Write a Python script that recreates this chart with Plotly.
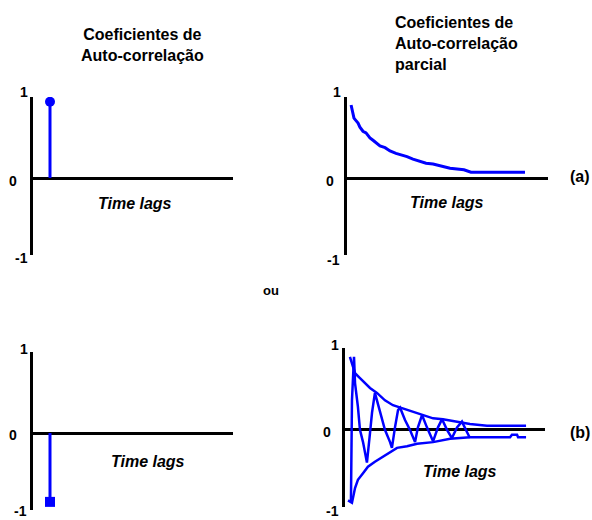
import plotly.graph_objects as go

W, H = 592, 520

# ---------------- data ----------------
# (a) autocorrelation: single spike at lag 1
ACF_A_LAG = [1]
ACF_A_VAL = [0.93]
# (a) partial autocorrelation: decaying curve
PACF_A_LAG = [0.24, 0.35, 0.41, 0.53, 0.65, 0.76, 0.94, 1.12, 1.24, 1.35, 1.53, 1.71,
              1.94, 2.24, 2.53, 2.88, 3.24, 3.53, 3.88, 4.24, 4.65, 5.06, 5.47, 6.06,
              6.88, 7.29, 10.47]
PACF_A_VAL = [0.89, 0.79, 0.73, 0.70, 0.67, 0.62, 0.57, 0.55, 0.51, 0.49, 0.46, 0.43,
              0.39, 0.37, 0.33, 0.30, 0.28, 0.26, 0.23, 0.21, 0.18, 0.17, 0.15, 0.12,
              0.10, 0.07, 0.07]
# (b) autocorrelation: single negative spike at lag 1
ACF_B_LAG = [1]
ACF_B_VAL = [-0.84]
# (b) partial autocorrelation: upper envelope, lower envelope, damped oscillation
UPPER_LAG = [0.29, 0.59, 0.88, 1.18, 1.47, 1.88, 2.35, 2.82, 3.24, 3.82, 4.59, 5.18,
             5.76, 6.59, 7.35, 8.35, 10.65]
UPPER_VAL = [0.88, 0.68, 0.62, 0.56, 0.50, 0.44, 0.35, 0.29, 0.26, 0.22, 0.17, 0.13,
             0.12, 0.09, 0.06, 0.04, 0.04]
LOWER_LAG = [0.18, 0.41, 0.59, 0.76, 1.06, 1.35, 1.76, 2.24, 2.65, 3.06, 3.65, 4.24,
             5.18, 6.18, 7.35, 9.71, 9.82, 10.12, 10.18, 10.65]
LOWER_VAL = [-0.87, -0.90, -0.72, -0.62, -0.54, -0.46, -0.40, -0.34, -0.28, -0.23, -0.21,
             -0.18, -0.16, -0.12, -0.10, -0.10, -0.07, -0.07, -0.10, -0.10]
OSC_LAG = [0.35, 0.41, 0.53, 0.59, 0.76, 0.88, 1.06, 1.18, 1.29, 1.47, 1.59, 1.76,
           2.06, 2.35, 2.65, 2.76, 2.94, 3.12, 3.24, 3.53, 3.82, 4.12, 4.29, 4.53,
           4.82, 5.18, 5.47, 5.71, 6.00, 6.29, 6.59, 6.88, 7.18, 7.35]
OSC_VAL = [-0.89, 0.35, 0.88, 0.56, 0.27, -0.01, -0.16, -0.29, -0.41, -0.05, 0.20, 0.44,
           0.20, -0.01, -0.16, -0.23, 0.02, 0.23, 0.26, 0.11, -0.01, -0.16, 0.02, 0.17,
           0.02, -0.15, 0.02, 0.12, -0.01, -0.11, 0.02, 0.09, -0.04, -0.11]

TICK_VALUES = [1, 0, -1]
TICK_LABELS = ["1", "0", "-1"]
TITLE_ACF = "Coeficientes de<br>Auto-correlação"
TITLE_PACF = "Coeficientes de<br>Auto-correlação<br>parcial"
XLABEL = "Time lags"
PANEL_LABELS = ["(a)", "(b)"]
SEP_LABEL = "ou"

BLUE = "#0000FF"
FONT = "Liberation Sans"

def px(x):
    return x / W

def py(y):
    return 1 - y / H

fig = go.Figure()

# panel geometry in pixels: (x_left, x_right, y_top, y_zero, y_bottom)
panels = {
    1: (33, 233, 97, 178, 255),
    2: (347, 548, 97, 178, 255),
    3: (33, 233, 352, 433, 510),
    4: (345, 545, 348, 429, 507),
}
SCALE = 82.0   # px per unit
LAGPX = 17.0   # px per lag

layout_axes = {}
for i, (xl, xr, yt, y0, yb) in panels.items():
    xa = "xaxis" if i == 1 else f"xaxis{i}"
    ya = "yaxis" if i == 1 else f"yaxis{i}"
    layout_axes[xa] = dict(domain=[px(xl), px(xr)], range=[0, (xr - xl) / LAGPX],
                           showgrid=False, zeroline=False, showline=False,
                           showticklabels=False, ticks="", fixedrange=True,
                           anchor=("y" if i == 1 else f"y{i}"))
    layout_axes[ya] = dict(domain=[py(yb), py(yt)],
                           range=[-(yb - y0) / SCALE, (y0 - yt) / SCALE],
                           showgrid=False, zeroline=True, zerolinecolor="black",
                           zerolinewidth=3, showline=True, linecolor="black",
                           linewidth=3, showticklabels=False, ticks="",
                           fixedrange=True,
                           anchor=("x" if i == 1 else f"x{i}"))

def ax(i):
    return ("x", "y") if i == 1 else (f"x{i}", f"y{i}")

# panel 1: ACF (a)
for lag, val in zip(ACF_A_LAG, ACF_A_VAL):
    fig.add_trace(go.Scatter(x=[lag, lag], y=[0, val], mode="lines",
                             line=dict(color=BLUE, width=3),
                             xaxis=ax(1)[0], yaxis=ax(1)[1], showlegend=False))
fig.add_trace(go.Scatter(x=ACF_A_LAG, y=ACF_A_VAL, mode="markers",
                         marker=dict(color=BLUE, size=10, symbol="circle"),
                         xaxis=ax(1)[0], yaxis=ax(1)[1], showlegend=False))

# panel 2: PACF (a)
fig.add_trace(go.Scatter(x=PACF_A_LAG, y=PACF_A_VAL, mode="lines",
                         line=dict(color=BLUE, width=3, shape="linear"),
                         xaxis=ax(2)[0], yaxis=ax(2)[1], showlegend=False))

# panel 3: ACF (b)
for lag, val in zip(ACF_B_LAG, ACF_B_VAL):
    fig.add_trace(go.Scatter(x=[lag, lag], y=[0, val], mode="lines",
                             line=dict(color=BLUE, width=3),
                             xaxis=ax(3)[0], yaxis=ax(3)[1], showlegend=False))
fig.add_trace(go.Scatter(x=ACF_B_LAG, y=ACF_B_VAL, mode="markers",
                         marker=dict(color=BLUE, size=10, symbol="square"),
                         xaxis=ax(3)[0], yaxis=ax(3)[1], showlegend=False))

# panel 4: PACF (b)
for xs, ys in [(UPPER_LAG, UPPER_VAL), (LOWER_LAG, LOWER_VAL), (OSC_LAG, OSC_VAL)]:
    fig.add_trace(go.Scatter(x=xs, y=ys, mode="lines",
                             line=dict(color=BLUE, width=2.5),
                             xaxis=ax(4)[0], yaxis=ax(4)[1], showlegend=False))

ann = []
bold = dict(family=FONT, size=16, color="black")
# titles
ann.append(dict(text=f"<b>{TITLE_ACF}</b>", x=px(142), y=py(45), xref="paper", yref="paper",
                xanchor="center", yanchor="middle", align="center", showarrow=False, font=bold))
ann.append(dict(text=f"<b>{TITLE_PACF}</b>", x=px(393), y=py(43), xref="paper", yref="paper",
                xanchor="left", yanchor="middle", align="left", showarrow=False, font=bold))
# x labels
for (x, y) in [(135, 204), (447, 203), (148, 461), (460, 471)]:
    ann.append(dict(text=f"<b><i>{XLABEL}</i></b>", x=px(x), y=py(y), xref="paper", yref="paper",
                    xanchor="center", yanchor="middle", showarrow=False, font=bold))
# panel labels
for lab, (x, y) in zip(PANEL_LABELS, [(580, 176), (580, 432)]):
    ann.append(dict(text=f"<b>{lab}</b>", x=px(x), y=py(y), xref="paper", yref="paper",
                    xanchor="center", yanchor="middle", showarrow=False,
                    font=dict(family=FONT, size=16, color="black")))
ann.append(dict(text=f"<b>{SEP_LABEL}</b>", x=px(271), y=py(290), xref="paper", yref="paper",
                xanchor="center", yanchor="middle", showarrow=False,
                font=dict(family=FONT, size=13, color="black")))
# y tick labels
tick_pos = {
    1: [(24, 92), (13, 181), (21, 258)],
    2: [(337, 92), (330, 181), (333, 260)],
    3: [(24, 349), (13, 435), (20, 511)],
    4: [(335, 345), (327, 432), (332, 511)],
}
for i, plist in tick_pos.items():
    for lab, v, (x, y) in zip(TICK_LABELS, TICK_VALUES, plist):
        ann.append(dict(text=f"<b>{lab}</b>", x=px(x), y=py(y), xref="paper", yref="paper",
                        xanchor="center", yanchor="middle", showarrow=False,
                        font=dict(family=FONT, size=14, color="black")))

fig.update_layout(width=W, height=H, margin=dict(l=0, r=0, t=0, b=0),
                  paper_bgcolor="white", plot_bgcolor="white",
                  annotations=ann, showlegend=False, **layout_axes)

fig.write_html("out.html", config={"displayModeBar": False})
